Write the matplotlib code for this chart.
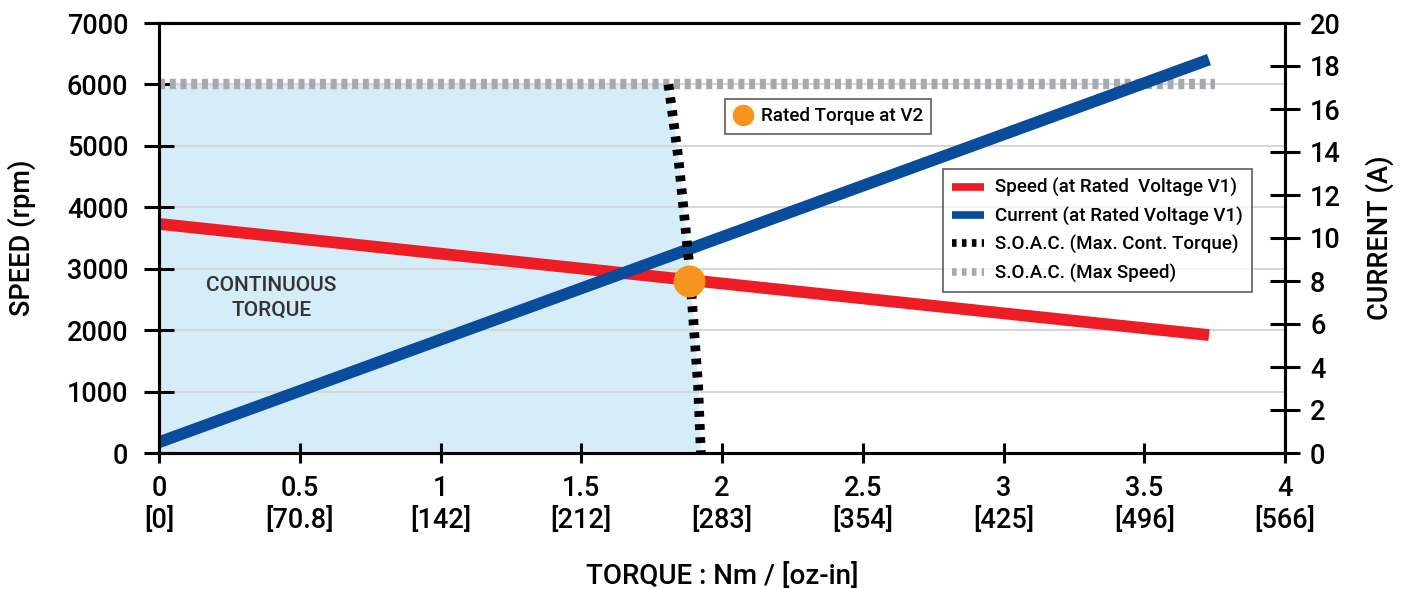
import matplotlib
matplotlib.use("Agg")
import matplotlib.pyplot as plt
from matplotlib.lines import Line2D

plt.rcParams['font.family'] = ['Roboto', 'Liberation Sans', 'DejaVu Sans']
plt.rcParams['font.weight'] = 'medium'
plt.rcParams['axes.labelweight'] = 'medium'

# ---------------- data ----------------
x_ticks = [0, 0.5, 1, 1.5, 2, 2.5, 3, 3.5, 4]
x_tick_oz = ["[0]", "[70.8]", "[142]", "[212]", "[283]", "[354]", "[425]", "[496]", "[566]"]
speed_ticks = [0, 1000, 2000, 3000, 4000, 5000, 6000, 7000]
current_ticks = [0, 2, 4, 6, 8, 10, 12, 14, 16, 18, 20]

speed_torque = [0.0, 3.73]
speed_rpm = [3730, 1920]

current_torque = [0.0, 3.73]
current_amp = [0.5, 18.3]

soac_cont_torque = [1.81, 1.845, 1.885, 1.915, 1.925]
soac_cont_speed = [6000, 4800, 3000, 1100, 0]

soac_speed_torque = [0.0, 3.75]
soac_speed_rpm = [6000, 6000]

rated_v2_torque = [1.883]
rated_v2_speed = [2800]

# ---------------- colours ----------------
RED = "#ee1c25"
BLUE = "#0a4c9c"
ORANGE = "#f7941d"
GRAY = "#a7a9ac"
FILL = "#d5edf9"

W, H = 1408, 589
fig = plt.figure(figsize=(W / 100, H / 100), dpi=100)
ax = fig.add_axes([159 / W, 1 - 453 / H, (1285 - 159) / W, (453 - 23) / H])
ax2 = ax.twinx()

ax.set_xlim(0, 4)
ax.set_ylim(0, 7000)
ax2.set_ylim(0, 20)

# continuous torque region
ax.fill_betweenx(soac_cont_speed, 0, soac_cont_torque, color=FILL, lw=0, zorder=1)

# grid
ax.set_yticks(speed_ticks)
for yv in speed_ticks[1:-1]:
    ax.axhline(yv, color="#d6d6d6", lw=1.4, zorder=1.5)

# speed line
ax.plot(speed_torque, speed_rpm, color=RED, lw=8.5, solid_capstyle="butt", zorder=2)

# S.O.A.C. max speed (gray)
ax.plot(soac_speed_torque, soac_speed_rpm, color=GRAY, lw=7.5, dashes=(0.58, 0.45),
        dash_capstyle="butt", zorder=2.5)

# current on right axis
ax2.plot(current_torque, current_amp, color=BLUE, lw=8.5, solid_capstyle="butt", zorder=2)

# S.O.A.C. continuous torque (black) + rated point, drawn above current line
ax2.plot(soac_cont_torque, soac_cont_speed, color="black", lw=7.0, dashes=(0.6, 0.75),
         dash_capstyle="butt", transform=ax.transData, zorder=3)
ax2.plot(rated_v2_torque, rated_v2_speed, "o", color=ORANGE, ms=23, mec="none",
         transform=ax.transData, zorder=4)

# text
ax.text(0.40, 2530, "CONTINUOUS\nTORQUE", ha="center", va="center", fontsize=15,
        color="#333333", linespacing=1.35, zorder=3)

# ticks
ax.set_xticks(x_ticks)
ax.set_xticklabels([f"{t:g}\n{o}" for t, o in zip(x_ticks, x_tick_oz)], linespacing=1.25)
ax.tick_params(axis="x", direction="inout", length=15, width=2.2, labelsize=19.5, pad=8)
ax.tick_params(axis="y", direction="inout", length=22, width=2.2, labelsize=19.5, pad=11)
ax2.set_yticks(current_ticks)
ax2.tick_params(axis="y", direction="inout", length=22, width=2.2, labelsize=19.5, pad=7)

for a in (ax, ax2):
    for s in a.spines.values():
        s.set_linewidth(2.2)
        s.set_color("black")

ax.set_ylabel("SPEED (rpm)", fontsize=19.5, labelpad=22)
ax2.set_ylabel("CURRENT (A)", fontsize=19.5, labelpad=18)
ax.set_xlabel("TORQUE : Nm / [oz-in]", fontsize=20, labelpad=21)

# legends
handles = [
    Line2D([], [], color=RED, lw=5.5, solid_capstyle="butt"),
    Line2D([], [], color=BLUE, lw=5.5, solid_capstyle="butt"),
    Line2D([], [], color="black", lw=5.5, dashes=(0.6, 0.7), dash_capstyle="butt"),
    Line2D([], [], color=GRAY, lw=5.5, dashes=(0.6, 0.7), dash_capstyle="butt"),
]
labels = ["Speed (at Rated  Voltage V1)", "Current (at Rated Voltage V1)",
          "S.O.A.C. (Max. Cont. Torque)", "S.O.A.C. (Max Speed)"]
leg1 = ax2.legend(handles, labels, loc="upper left", bbox_to_anchor=(943 / W, 1 - 169 / H),
                  bbox_transform=fig.transFigure, fontsize=13.5, frameon=True, fancybox=False,
                  borderpad=0.5, labelspacing=0.5, handlelength=1.7, handletextpad=0.55,
                  borderaxespad=0)
leg1.get_frame().set_edgecolor("#333333")
leg1.get_frame().set_linewidth(1.2)
leg1.set_zorder(10)
ax2.add_artist(leg1)

h2 = [Line2D([], [], marker="o", color=ORANGE, ms=15.5, mec="none", ls="none")]
leg2 = ax2.legend(h2, ["Rated Torque at V2"], loc="upper left",
                  bbox_to_anchor=(725 / W, 1 - 99 / H), bbox_transform=fig.transFigure,
                  fontsize=13.5, frameon=True, fancybox=False, borderpad=0.45,
                  handlelength=1.0, handletextpad=0.45, borderaxespad=0)
leg2.get_frame().set_edgecolor("#333333")
leg2.get_frame().set_linewidth(1.2)
leg2.set_zorder(10)

fig.savefig("out.png", dpi=100)
